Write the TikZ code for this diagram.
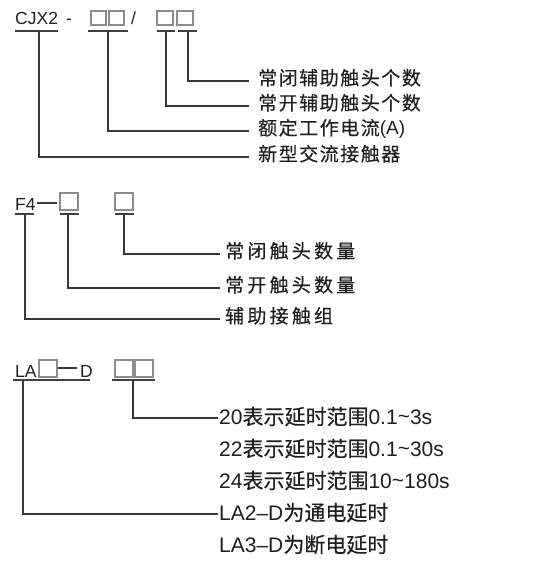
\documentclass[tikz,border=0pt]{standalone}
\usepackage{fontspec}
\setmainfont{Liberation Sans}
\newfontfamily\cjk[FakeBold=0.3]{Noto Sans CJK SC}
\newfontfamily\cjkA[LetterSpace=8,FakeBold=0.3]{Noto Sans CJK SC}
\newfontfamily\cjkB[LetterSpace=17,FakeBold=0.3]{Noto Sans CJK SC}
\begin{document}
\begin{tikzpicture}[x=1pt,y=-1pt,
  ld/.style={draw=black!78,line width=1.2pt},
  bx/.style={draw=black!45,line width=1.1pt},
  ul/.style={draw=black!75,line width=1.1pt},
  ttl/.style={inner sep=0pt,anchor=base west,font=\fontsize{17.5}{17.5}\selectfont,text=black!88},
  lab/.style={inner sep=0pt,anchor=west,text height=16.5pt,text depth=2.5pt,font=\fontsize{19}{19}\selectfont,text=black!88},
  labc/.style={inner sep=0pt,anchor=west,text height=18pt,text depth=3pt,font=\fontsize{21}{21}\selectfont,text=black!88}]
\useasboundingbox (0,0) rectangle (542,569);
% ---------- section 1 ----------
\node[ttl] (cjx) at (15,25) {CJX2};
\node[ttl] (dash1) at (66,25) {-};
\draw[bx] (91,11) rectangle (106,25);
\draw[bx] (109,11) rectangle (124,25);
\node[ttl] (sl) at (131,25) {/};
\draw[bx] (157,11) rectangle (173,25);
\draw[bx] (177,11) rectangle (193,25);
\draw[ul] (15,31) -- (58,31);
\draw[ul] (88,31) -- (128,31);
\draw[ul] (157,31) -- (175,31);
\draw[ul] (178,31) -- (197,31);
\coordinate (a1) at (188,31);
\coordinate (a2) at (166,31);
\coordinate (a3) at (108,31);
\coordinate (a4) at (39,31);
\node[lab] (t1) at (258,78) {\cjkA 常闭辅助触头个数};
\node[lab] (t2) at (258,103) {\cjkA 常开辅助触头个数};
\node[lab] (t3) at (258,128) {\cjkA 额定工作电流\normalfont(A)};
\node[lab] (t4) at (258,154) {\cjkA 新型交流接触器};
\draw[ld] (a1) |- (249,81);
\draw[ld] (a2) |- (249,106);
\draw[ld] (a3) |- (249,131);
\draw[ld] (a4) |- (249,157);
% ---------- section 2 ----------
\node[ttl] (f4) at (15,210) {F4};
\draw[ld] (37,203) -- (57,203);
\draw[bx] (60,193) rectangle (78,210);
\draw[bx] (115,193) rectangle (133,210);
\draw[ul] (15,214) -- (34,214);
\draw[ul] (60,214) -- (79,214);
\draw[ul] (115,214) -- (134,214);
\coordinate (b1) at (124,214);
\coordinate (b2) at (68,214);
\coordinate (b3) at (25,214);
\node[lab] (u1) at (225,251) {\cjkB 常闭触头数量};
\node[lab] (u2) at (225,285) {\cjkB 常开触头数量};
\node[lab] (u3) at (225,316) {\cjkB 辅助接触组};
\draw[ld] (b1) |- (220,254);
\draw[ld] (b2) |- (220,288);
\draw[ld] (b3) |- (220,319);
% ---------- section 3 ----------
\node[ttl] (la) at (15,377) {LA};
\draw[bx] (39,360) rectangle (57,377);
\draw[ld] (58,368) -- (77,368);
\node[ttl] (dd) at (80,377) {D};
\draw[bx] (115,360) rectangle (133,377);
\draw[bx] (135,360) rectangle (153,377);
\draw[ul] (13,380) -- (90,380);
\draw[ul] (112,380) -- (155,380);
\coordinate (c1) at (133,380);
\coordinate (c2) at (23,380);
\node[labc] (v1) at (219,417) {20{\cjk 表示延时范围}0.1\raisebox{1pt}{\textasciitilde}3s};
\node[labc] (v2) at (219,449) {22{\cjk 表示延时范围}0.1\raisebox{1pt}{\textasciitilde}30s};
\node[labc] (v3) at (219,481) {24{\cjk 表示延时范围}10\raisebox{1pt}{\textasciitilde}180s};
\node[labc] (v4) at (219,513) {LA2\textendash D{\cjk 为通电延时}};
\node[labc] (v5) at (219,545) {LA3\textendash D{\cjk 为断电延时}};
\draw[ld] (c1) |- (218,418);
\draw[ld] (c2) |- (218,514);
\end{tikzpicture}
\end{document}
